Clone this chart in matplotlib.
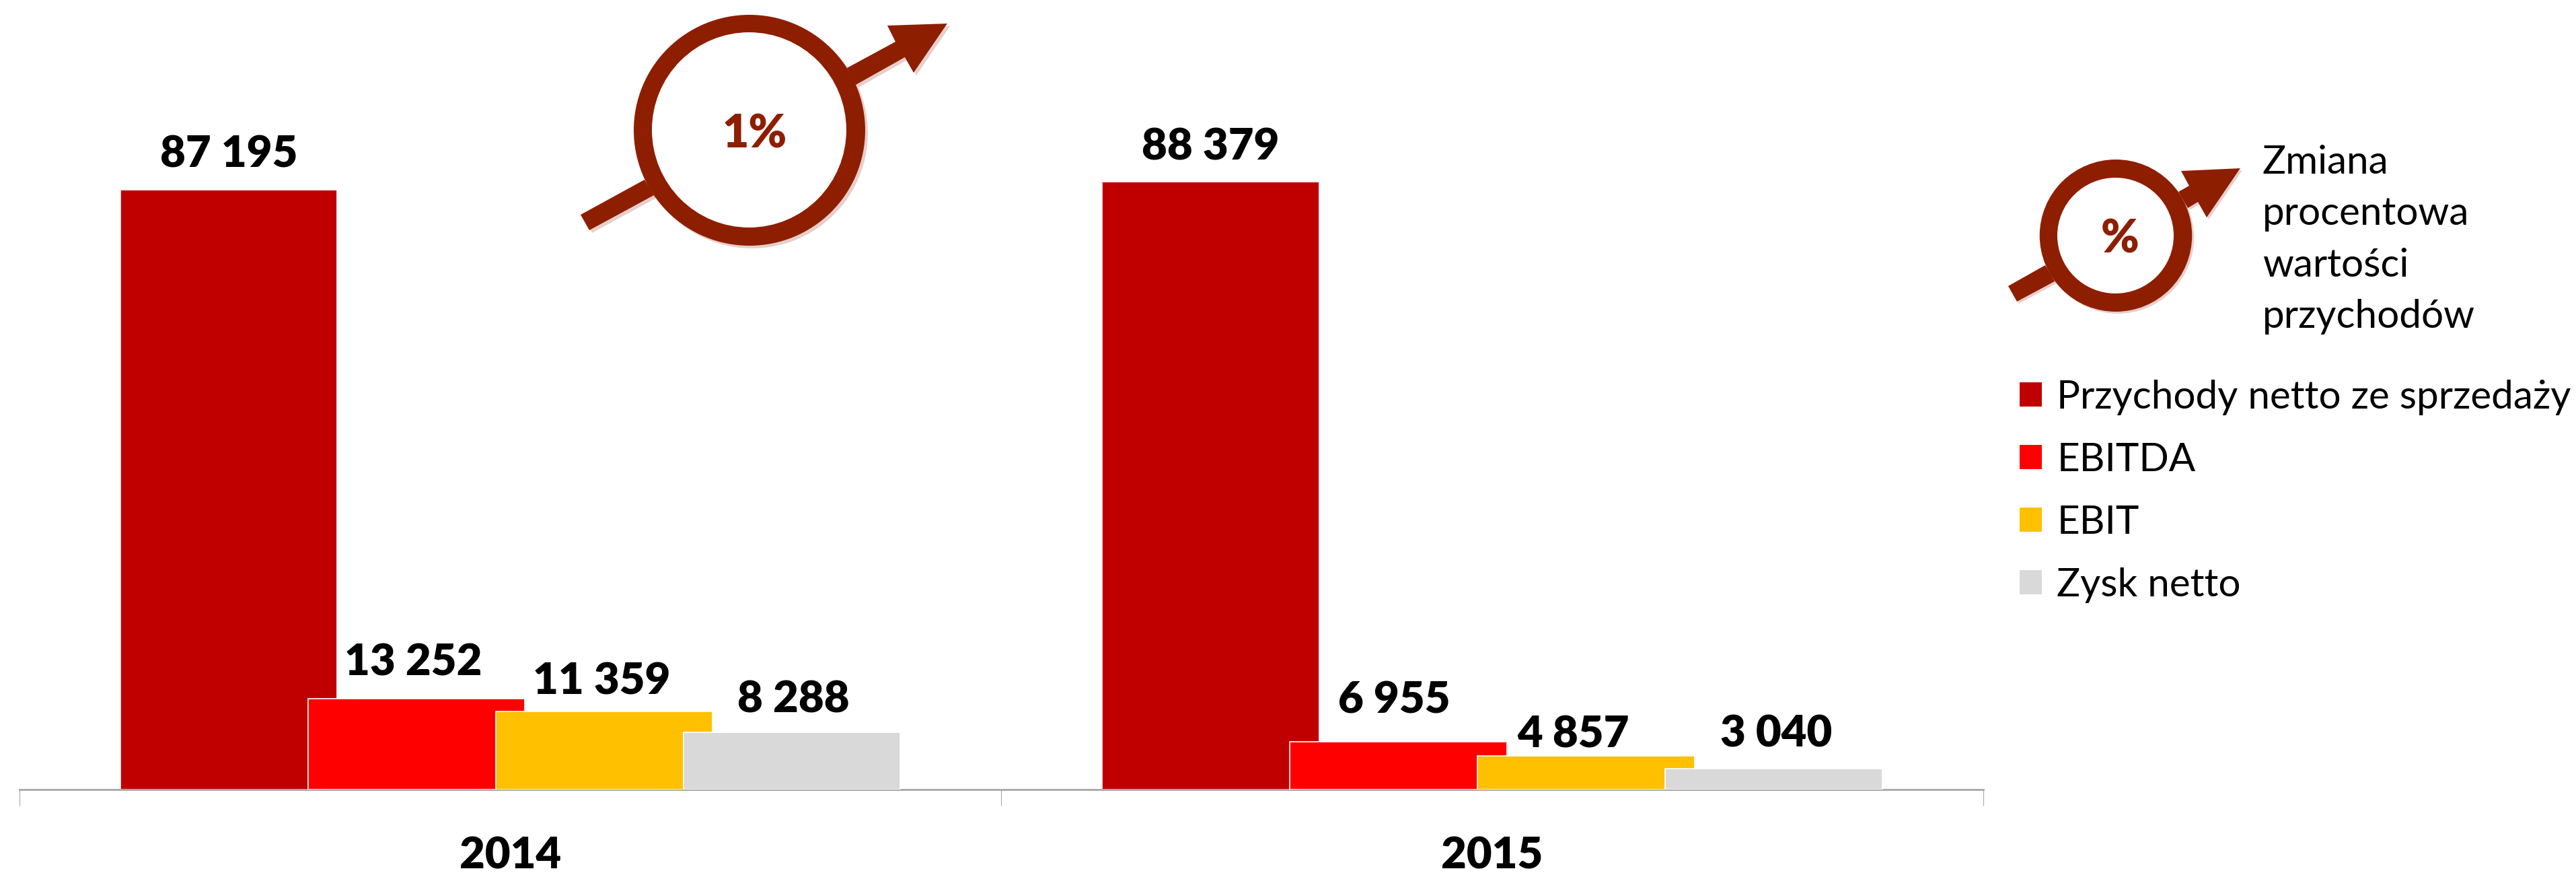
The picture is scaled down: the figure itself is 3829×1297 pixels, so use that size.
import matplotlib
matplotlib.use('Agg')
import matplotlib.pyplot as plt
from matplotlib.patches import Ellipse, Polygon
import numpy as np

W, H = 3830, 1297

years = ['2014', '2015']
series = ['Przychody netto ze sprzedaży', 'EBITDA', 'EBIT', 'Zysk netto']
przychody = [87195, 88379]
ebitda = [13252, 6955]
ebit = [11359, 4857]
zysk = [8288, 3040]
colors = ['#C00000', '#FF0000', '#FFC000', '#D9D9D9']
change_label = '1%'
legend_note = ['Zmiana', 'procentowa', 'wartości', 'przychodów']

# hand placed data labels in the original, offsets in px (per series, per year)
label_dx = [[0, 0], [-5, -6], [-4, -19], [2, 3]]
label_gap = [[33, 32], [34, 42], [25, 13], [30, 32]]

BROWN = '#8E1E00'
SHADOW = '#E6CFCB'

plt.rcParams['font.family'] = ['Lato', 'DejaVu Sans']

fig = plt.figure(figsize=(W / 100, H / 100), dpi=100)
base_y = 1173
scale = 0.01022
ax = fig.add_axes([28.6 / W, (H - base_y) / H, (2948 - 28.6) / W, 1000 / H])
ax.set_xlim(-0.5, 1.5)
ax.set_ylim(0, 1000 / scale)

step = 279 / 1459.5
width = 322.6 / 1459.5
x = np.arange(len(years))
values = [przychody, ebitda, ebit, zysk]

handles = []
for i, vals in enumerate(values):
    bars = ax.bar(x + (i - 1.5) * step, vals, width, color=colors[i],
                  edgecolor='white', linewidth=1.2, zorder=2 + i, label=series[i])
    handles.append(bars)
    for j, b in enumerate(bars):
        txt = f'{vals[j]:,}'.replace(',', ' ')
        ax.annotate(txt, (b.get_x() + b.get_width() / 2, vals[j]),
                    xytext=(label_dx[i][j] * 0.72, label_gap[i][j] * 0.72),
                    textcoords='offset points', ha='center', va='baseline',
                    fontsize=47, fontweight='heavy', color='black', zorder=10)

for s in ['top', 'left', 'right']:
    ax.spines[s].set_visible(False)
ax.spines['bottom'].set_color('#A6A6A6')
ax.spines['bottom'].set_linewidth(2.0)
ax.patch.set_alpha(0)
ax.set_yticks([])
ax.set_xticks([-0.5, 0.5, 1.5])
ax.set_xticklabels([])
ax.tick_params(axis='x', which='major', length=17, width=0.8, color='#A6A6A6')
ax.set_xticks(x, minor=True)
ax.set_xticklabels(years, minor=True, fontsize=47, fontweight='heavy')
ax.tick_params(axis='x', which='minor', length=0, pad=50)

leg = fig.legend(handles=handles, labels=series, loc='upper left',
                 bbox_to_anchor=(3002 / W, 1 - 564 / H), bbox_transform=fig.transFigure,
                 frameon=False, fontsize=42, borderaxespad=0, borderpad=0,
                 handlelength=0.57, handleheight=0.57, handletextpad=0.38,
                 labelspacing=0.686)
for h in leg.legend_handles:
    h.set_edgecolor('none')

# overlay in image pixels for the ring arrows
ov = fig.add_axes([0, 0, 1, 1], zorder=20)
ov.set_xlim(0, W)
ov.set_ylim(H, 0)
ov.axis('off')


def ring_arrow(outer, inner, tail, right, shadow=4):
    cx, cy, w, h = outer
    ix, iy, iw, ih = inner
    for off, col in [(shadow, SHADOW), (0, BROWN)]:
        ov.add_patch(Polygon(np.array(tail) + off, closed=True, fc=col, ec='none'))
        ov.add_patch(Polygon(np.array(right) + off, closed=True, fc=col, ec='none'))
        ov.add_patch(Ellipse((cx + off, cy + off), w, h, fc=col, ec='none'))
    ov.add_patch(Ellipse((ix, iy), iw, ih, fc='white', ec='none'))


ring_arrow((1114, 193.5, 344, 343), (1113.5, 193, 289, 290),
           [(863, 319), (876, 342), (972, 290), (958, 267)],
           [(1259, 101), (1272, 126), (1345, 85), (1358, 108), (1408, 35), (1319, 38), (1331, 62)])
ov.text(1122, 220, change_label, ha='center', va='baseline', fontsize=49,
        fontweight='heavy', color=BROWN)

ring_arrow((3145, 350, 226.5, 226), (3144.5, 350, 173, 172),
           [(2985, 425), (2998, 448), (3054, 418), (3040, 394)],
           [(3238, 285), (3252, 309), (3267, 300), (3280, 323), (3330, 250), (3242, 254), (3254, 276)],
           shadow=3)
ov.text(3151, 376, '%', ha='center', va='baseline', fontsize=49,
        fontweight='heavy', color=BROWN)

for line, base in zip(legend_note, [258, 334, 411, 487]):
    ov.text(3363, base, line, ha='left', va='baseline', fontsize=42, color='black')

fig.savefig('out.png', dpi=100, facecolor='white')
